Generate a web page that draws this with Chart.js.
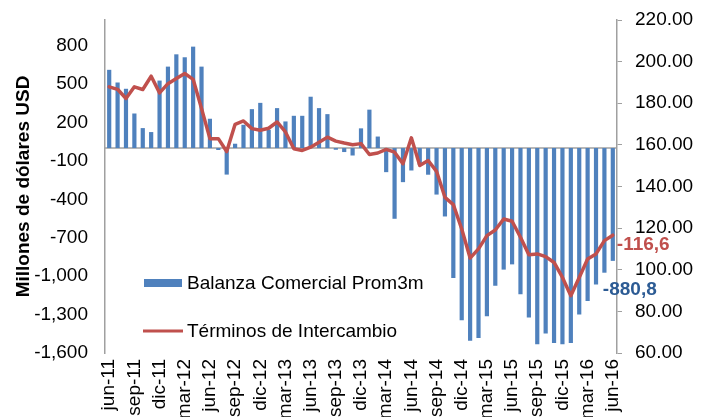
<!DOCTYPE html>
<html lang="es">
<head>
    <meta charset="UTF-8">
    <title>Balanza Comercial y Términos de Intercambio</title>
    <script src="https://cdn.jsdelivr.net/npm/chart.js"></script>
    <style>
        html, body { margin: 0; padding: 0; background: #fff; overflow: hidden; }
        #wrap { width: 701px; height: 417px; position: relative; }
    </style>
</head>
<body>
<div id="wrap"><canvas id="chart" width="701" height="417"></canvas></div>
<script>
// months jun-11 .. jun-16
const categories = [
    'jun-11','jul-11','ago-11','sep-11','oct-11','nov-11','dic-11',
    'ene-12','feb-12','mar-12','abr-12','may-12','jun-12','jul-12','ago-12','sep-12','oct-12','nov-12','dic-12',
    'ene-13','feb-13','mar-13','abr-13','may-13','jun-13','jul-13','ago-13','sep-13','oct-13','nov-13','dic-13',
    'ene-14','feb-14','mar-14','abr-14','may-14','jun-14','jul-14','ago-14','sep-14','oct-14','nov-14','dic-14',
    'ene-15','feb-15','mar-15','abr-15','may-15','jun-15','jul-15','ago-15','sep-15','oct-15','nov-15','dic-15',
    'ene-16','feb-16','mar-16','abr-16','may-16','jun-16'
];

// Balanza Comercial Prom3m (millones USD)
const balanza = [
    611, 512, 463, 270, 156, 125, 527,
    636, 732, 709, 792, 636, 229, -15, -207, 34, 182, 304, 353,
    143, 312, 208, 252, 252, 401, 312, 265, -13, -31, -58, 154,
    300, 90, -188, -552, -266, -175, -130, -208, -363, -534, -1014, -1344,
    -1505, -1482, -1313, -1074, -949, -908, -1141, -1323, -1531, -1448, -1521, -1531,
    -1521, -1300, -1194, -1066, -973, -880.8
];

// Términos de Intercambio (eje derecho)
const terminos = [
    187.9, 186.7, 182.3, 187.9, 186.6, 193.0, 185.0,
    189.4, 191.9, 194.3, 191.5, 177.5, 163.0, 163.0, 156.8, 169.9, 171.5, 167.8, 167.0,
    168.0, 171.0, 166.2, 158.1, 157.3, 158.9, 161.3, 163.7, 161.8, 160.9, 160.1, 160.6,
    155.4, 156.1, 157.8, 156.5, 150.9, 163.4, 150.1, 152.5, 147.3, 134.8, 131.3, 119.6,
    105.6, 110.0, 116.4, 119.1, 124.4, 123.3, 115.6, 107.2, 107.6, 106.3, 103.5, 96.3,
    87.5, 96.3, 105.2, 107.6, 114.0, 116.6
];

const leftTicks = [-1600, -1300, -1000, -700, -400, -100, 200, 500, 800];
const rightTicks = [60, 80, 100, 120, 140, 160, 180, 200, 220];
const endLabels = ['-880,8', '-116,6'];

const FONT = 'Liberation Sans, Arial, sans-serif';
const BLUE = '#4F81BD';
const RED = '#C0504D';

// zero line + end labels + legend
const extras = {
    id: 'extras',
    beforeDatasetsDraw(chart) {
        const ctx = chart.ctx, a = chart.chartArea;
        const y0 = chart.scales.y.getPixelForValue(0);
        ctx.save();
        ctx.strokeStyle = '#A0A0A0';
        ctx.lineWidth = 1.5;
        ctx.beginPath();
        ctx.moveTo(a.left, y0);
        ctx.lineTo(a.right, y0);
        ctx.stroke();
        ctx.restore();
    },
    afterDatasetsDraw(chart) {
        const ctx = chart.ctx;
        const bar = chart.getDatasetMeta(0).data[balanza.length - 1];
        const pt = chart.getDatasetMeta(1).data[terminos.length - 1];
        ctx.save();
        ctx.font = 'bold 19px ' + FONT;
        ctx.textBaseline = 'middle';
        ctx.textAlign = 'center';
        ctx.fillStyle = '#2C5B94';
        ctx.fillText(endLabels[0], bar.x + 17, bar.y + 29);
        ctx.textAlign = 'left';
        ctx.fillStyle = RED;
        ctx.fillText(endLabels[1], pt.x + 4, pt.y + 10);

        // legend
        ctx.font = '19px ' + FONT;
        ctx.fillStyle = BLUE;
        ctx.fillRect(144, 279, 38, 8);
        ctx.fillStyle = '#000';
        ctx.fillText(chart.data.datasets[0].label, 187, 284);
        ctx.strokeStyle = RED;
        ctx.lineWidth = 3;
        ctx.beginPath();
        ctx.moveTo(143, 331);
        ctx.lineTo(183, 331);
        ctx.stroke();
        ctx.fillText(chart.data.datasets[1].label, 187, 332);
        ctx.restore();
    }
};

new Chart(document.getElementById('chart'), {
    type: 'bar',
    data: {
        labels: categories,
        datasets: [{
            label: 'Balanza Comercial Prom3m',
            data: balanza,
            backgroundColor: BLUE,
            yAxisID: 'y',
            order: 1,
            categoryPercentage: 1,
            barPercentage: 0.5
        }, {
            type: 'line',
            label: 'Términos de Intercambio',
            data: terminos,
            borderColor: RED,
            borderWidth: 3.5,
            borderCapStyle: 'round',
            borderJoinStyle: 'round',
            pointRadius: 0,
            tension: 0,
            yAxisID: 'y1',
            order: 0
        }]
    },
    options: {
        responsive: false,
        animation: false,
        devicePixelRatio: 1,
        layout: { padding: { top: 20 } },
        plugins: { legend: { display: false }, tooltip: { enabled: false } },
        scales: {
            x: {
                grid: { display: false, drawTicks: false },
                border: { display: false },
                ticks: {
                    autoSkip: false,
                    maxRotation: 90,
                    minRotation: 90,
                    padding: 6,
                    color: '#000',
                    font: { family: FONT, size: 19 },
                    callback: (v, i) => i % 3 === 0 ? categories[i] : ''
                },
                afterFit(s) { s.height = 64; }
            },
            y: {
                position: 'left',
                min: -1600,
                max: 1000,
                grid: { display: false, drawTicks: false },
                border: { display: true, color: '#A0A0A0', width: 1.5 },
                afterBuildTicks(s) { s.ticks = leftTicks.map(v => ({ value: v })); },
                ticks: {
                    padding: 17,
                    color: '#000',
                    font: { family: FONT, size: 19 },
                    callback: v => v.toLocaleString('en-US')
                },
                title: {
                    display: true,
                    text: 'Millones de dólares USD',
                    color: '#000',
                    font: { family: FONT, size: 19, weight: 'bold' },
                    padding: { top: 12, bottom: 0 }
                },
                afterFit(s) { s.width = 105; s.paddingTop = 0; s.paddingBottom = 0; }
            },
            y1: {
                position: 'right',
                min: 60,
                max: 220,
                grid: { display: true, drawOnChartArea: false, drawTicks: true, tickLength: 5, color: '#A0A0A0' },
                border: { display: true, color: '#A0A0A0', width: 1.5 },
                afterBuildTicks(s) { s.ticks = rightTicks.map(v => ({ value: v })); },
                ticks: {
                    padding: 13,
                    color: '#000',
                    font: { family: FONT, size: 19 },
                    callback: v => v.toFixed(2)
                },
                afterFit(s) { s.width = 84; s.paddingTop = 0; s.paddingBottom = 0; }
            }
        }
    },
    plugins: [extras]
});
</script>
</body>
</html>
